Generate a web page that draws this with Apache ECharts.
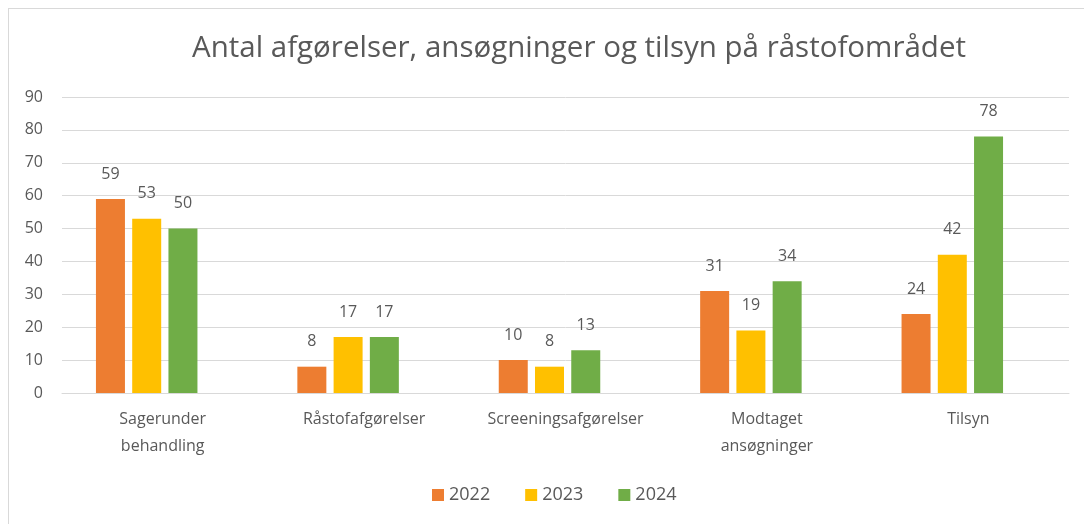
<!DOCTYPE html>
<html><head><meta charset="utf-8">
<script src="https://cdn.jsdelivr.net/npm/echarts@6/dist/echarts.min.js"></script>
<style>
html,body{margin:0;padding:0;background:#fff;}
#frame{position:absolute;left:8px;top:8px;width:1076px;height:516px;border-left:1px solid #d9d9d9;border-top:1px solid #d9d9d9;}
#c{position:absolute;left:0;top:0;width:1084px;height:524px;}
</style></head>
<body>
<div id="frame"></div>
<div id="c"></div>
<script>
const title = 'Antal afgørelser, ansøgninger og tilsyn på råstofområdet';
const categories = ['Sagerunder\nbehandling', 'Råstofafgørelser', 'Screeningsafgørelser', 'Modtaget\nansøgninger', 'Tilsyn'];
const seriesNames = ['2022', '2023', '2024'];
const values2022 = [59, 8, 10, 31, 24];
const values2023 = [53, 17, 8, 19, 42];
const values2024 = [50, 17, 13, 34, 78];
const yTicks = [0, 10, 20, 30, 40, 50, 60, 70, 80, 90];
const colors = ['#ED7D31', '#FFC000', '#70AD47'];
const allValues = [values2022, values2023, values2024];

const chart = echarts.init(document.getElementById('c'), null, {renderer:'canvas'});
const font = '"Open Sans", Lato, sans-serif';
const txt = '#595959';
chart.setOption({
  animation:false,
  textStyle:{fontFamily:font},
  title:{text:title,left:574,textAlign:'center',top:29,textStyle:{fontFamily:font,fontSize:29.5,fontWeight:'normal',color:txt}},
  legend:{bottom:15,left:427,itemWidth:12,itemHeight:12,itemGap:35,icon:'rect',
    textStyle:{fontFamily:font,fontSize:18,color:txt},data:seriesNames},
  grid:[
    {left:62,right:15,top:97,bottom:131,containLabel:false},
    {left:46,right:31,top:97,bottom:131,containLabel:false}
  ],
  xAxis:[
    {type:'category',gridIndex:0,data:categories,
      axisLine:{lineStyle:{color:'#d9d9d9',width:1}},axisTick:{show:false},
      axisLabel:{fontFamily:font,fontSize:16,color:txt,margin:13,lineHeight:27,interval:0}},
    {type:'category',gridIndex:1,data:categories,show:false}
  ],
  yAxis:[
    {type:'value',gridIndex:0,min:yTicks[0],max:yTicks[yTicks.length-1],interval:yTicks[1]-yTicks[0],
      axisLine:{show:false},axisTick:{show:false},
      axisLabel:{fontFamily:font,fontSize:16,color:txt,margin:19},
      splitLine:{lineStyle:{color:'#d9d9d9',width:1}}},
    {type:'value',gridIndex:1,min:yTicks[0],max:yTicks[yTicks.length-1],show:false,splitLine:{show:false}}
  ],
  series: allValues.map((v,i)=>({
    name:seriesNames[i],type:'bar',xAxisIndex:1,yAxisIndex:1,data:v,barWidth:29,barGap:'25%',
    itemStyle:{color:colors[i]},
    label:{show:true,position:'top',distance:17,fontFamily:font,fontSize:16,color:txt}
  }))
});
</script>
</body></html>
